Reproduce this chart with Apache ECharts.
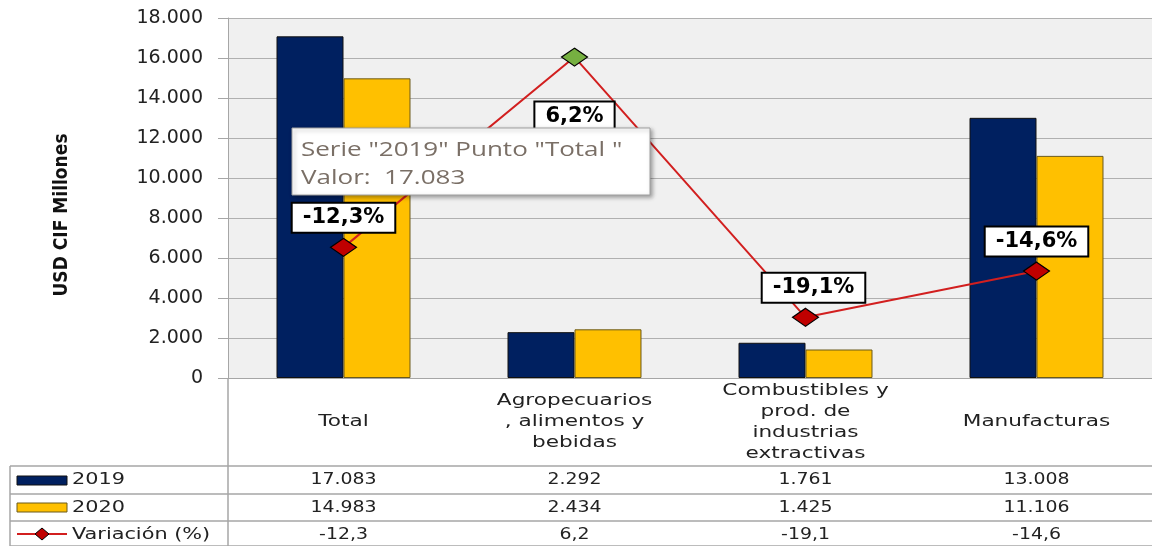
<!DOCTYPE html>
<html><head><meta charset="utf-8">
<script src="https://cdn.jsdelivr.net/npm/echarts@6/dist/echarts.min.js"></script>
<style>html,body{margin:0;padding:0;background:#fff}#c{width:1152px;height:546px}</style>
</head><body><div id="c"></div>
<script>
const categories = ['Total', 'Agropecuarios\n, alimentos y\nbebidas', 'Combustibles y\nprod. de\nindustrias\nextractivas', 'Manufacturas'];
const seriesNames = ['2019', '2020', 'Variación (%)'];
const values2019 = [17083, 2292, 1761, 13008];
const values2020 = [14983, 2434, 1425, 11106];
const variacion = [-12.3, 6.2, -19.1, -14.6];
const hoverCategory = 'Total ';

const FONT = "'DejaVu Sans', sans-serif";
const NAVY = '#002060', GOLD = '#FFC000', RED = '#C00000', GREEN = '#76B041';

function fmtThousands(v) {
  return String(Math.round(v)).replace(/\B(?=(\d{3})+(?!\d))/g, '.');
}
function fmtDec(v) { return v.toFixed(1).replace('.', ','); }

const chart = echarts.init(document.getElementById('c'), null, {renderer: 'canvas'});

const labelCfg = [
  {position: 'top', distance: 6, offset: [0, 0]},
  {position: 'bottom', distance: 36, offset: [0, 0]},
  {position: 'top', distance: 6, offset: [8, 0]},
  {position: 'top', distance: 6, offset: [0, 0]}
];

const lineData = variacion.map((v, i) => ({
  value: v,
  itemStyle: {color: v >= 0 ? GREEN : RED, borderColor: '#000', borderWidth: 1.2},
  label: labelCfg[i]
}));

const option = {
  animation: false,
  backgroundColor: '#fff',
  grid: {left: 228, right: 0, top: 18, bottom: 168, show: true, backgroundColor: '#f0f0f0', borderWidth: 0},
  xAxis: {
    type: 'category', data: categories,
    axisLine: {show: true, lineStyle: {color: '#a6a6a6', width: 1}},
    axisTick: {show: false},
    axisLabel: {show: false}
  },
  yAxis: [{
    type: 'value', min: 0, max: 18000, interval: 2000,
    axisLine: {show: true, lineStyle: {color: '#a6a6a6'}},
    axisTick: {show: true, length: 10, lineStyle: {color: '#a6a6a6'}},
    axisLabel: {fontFamily: FONT, fontSize: 19, color: '#222', margin: 25, formatter: v => fmtThousands(v)},
    splitLine: {lineStyle: {color: '#b0b0b0', width: 1}}
  }, {
    type: 'value', min: -25, max: 10, show: false, splitLine: {show: false}
  }],
  series: [{
    name: seriesNames[0], type: 'bar', data: values2019, barGap: '0%', barCategoryGap: '42%',
    itemStyle: {color: NAVY, borderColor: '#111', borderWidth: 1}
  }, {
    name: seriesNames[1], type: 'bar', data: values2020,
    itemStyle: {color: GOLD, borderColor: '#6b5a1a', borderWidth: 1}
  }, {
    name: seriesNames[2], type: 'line', yAxisIndex: 1, data: lineData,
    symbol: 'diamond', symbolSize: [26, 18], z: 5,
    lineStyle: {color: '#D21F1F', width: 2},
    label: {
      show: true, formatter: p => fmtDec(p.value) + '%',
      fontFamily: FONT, fontSize: 21, lineHeight: 22, fontWeight: 'bold', color: '#000',
      backgroundColor: '#fff', borderColor: '#000', borderWidth: 2, padding: [3, 10, 3, 10]
    }
  }]
};
chart.setOption(option);

// Category labels and data table, positioned from the category axis
const xs = categories.map((c, i) => chart.convertToPixel({xAxisIndex: 0}, i));
const g = [];
const lineC = '#a6a6a6';
categories.forEach((c, i) => g.push({type: 'text', x: xs[i], y: 422, scaleX: 1.35,
  style: {text: c, fontFamily: FONT, fontSize: 16, lineHeight: 21, fill: '#222', align: 'center', verticalAlign: 'middle'}}));
const rowTops = [466, 494, 521];
const rowH = [28, 27, 27];
rowTops.concat([546]).forEach(y => g.push({type: 'line', shape: {x1: 10, y1: y, x2: 1152, y2: y}, style: {stroke: lineC, lineWidth: 1.5}}));
g.push({type: 'line', shape: {x1: 10, y1: 466, x2: 10, y2: 546}, style: {stroke: lineC, lineWidth: 1.5}});
g.push({type: 'line', shape: {x1: 228, y1: 378, x2: 228, y2: 546}, style: {stroke: lineC, lineWidth: 1.5}});
const rows = [values2019.map(fmtThousands), values2020.map(fmtThousands), variacion.map(fmtDec)];
rows.forEach((r, ri) => {
  const cy = rowTops[ri] + rowH[ri] / 2;
  r.forEach((t, ci) => g.push({type: 'text', x: xs[ci], y: cy, scaleX: 1.18, style: {text: t, fontFamily: FONT, fontSize: 16, fill: '#222', align: 'center', verticalAlign: 'middle'}}));
  g.push({type: 'text', x: 72, y: cy, scaleX: 1.3, style: {text: seriesNames[ri], fontFamily: FONT, fontSize: 16, fill: '#222', align: 'left', verticalAlign: 'middle'}});
});
g.push({type: 'rect', shape: {x: 17, y: 476, width: 50, height: 9}, style: {fill: NAVY, stroke: '#111', lineWidth: 1}});
g.push({type: 'rect', shape: {x: 17, y: 503, width: 50, height: 9}, style: {fill: GOLD, stroke: '#6b5a1a', lineWidth: 1}});
g.push({type: 'line', shape: {x1: 17, y1: 534, x2: 67, y2: 534}, style: {stroke: '#D21F1F', lineWidth: 2}});
g.push({type: 'polygon', shape: {points: [[42, 528], [49, 534], [42, 540], [35, 534]]}, style: {fill: RED, stroke: '#000', lineWidth: 1}});
g.push({type: 'text', x: 62, y: 215, rotation: Math.PI / 2, style: {text: 'USD CIF Millones', fontFamily: "'Liberation Sans Narrow', 'DejaVu Sans Condensed', 'Liberation Sans', sans-serif", fontSize: 19, fontWeight: 'bold', fill: '#111', align: 'center', verticalAlign: 'middle'}});
// hover tooltip annotation
const TF = "'Open Sans', 'Noto Sans', sans-serif";
g.push({type: 'rect', z: 200, shape: {x: 292, y: 128, width: 358, height: 67}, style: {fill: '#fff', stroke: '#a0a0a0', lineWidth: 1, shadowBlur: 4, shadowOffsetX: 2, shadowOffsetY: 2, shadowColor: 'rgba(0,0,0,0.35)'}});
g.push({type: 'text', z: 201, x: 301, y: 150, scaleX: 1.3, style: {text: 'Serie "' + seriesNames[0] + '" Punto "' + hoverCategory + '"', fontFamily: TF, fontSize: 20, fill: '#7a6f66', verticalAlign: 'middle'}});
g.push({type: 'text', z: 201, x: 301, y: 178, scaleX: 1.3, style: {text: 'Valor:  ' + fmtThousands(values2019[0]), fontFamily: TF, fontSize: 20, fill: '#7a6f66', verticalAlign: 'middle'}});
chart.setOption({graphic: g});
</script></body></html>
